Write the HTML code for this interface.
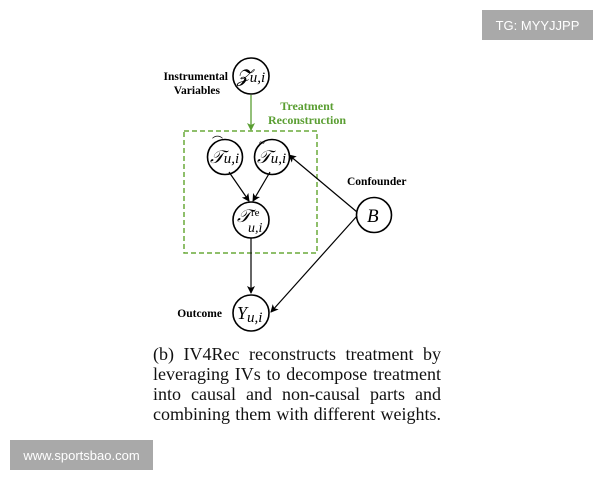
<!DOCTYPE html>
<html><head><meta charset="utf-8"><style>
body{margin:0;width:600px;height:480px;background:#fff;position:relative;overflow:hidden;font-family:"Liberation Serif",serif}
.wm{position:absolute;background:#a9a9a9;color:#fff;font-family:"Liberation Sans",sans-serif;font-size:13px;display:flex;align-items:center;justify-content:center}
.cap{position:absolute;left:153px;top:344px;width:288px;font-size:18px;line-height:20px;color:#111}
.cap div{text-align:justify;text-align-last:justify;white-space:nowrap;height:20px}
</style></head><body>
<svg width="600" height="480" style="position:absolute;left:0;top:0" font-family="Liberation Serif">
<defs>
<marker id="a" markerWidth="8" markerHeight="8" refX="7" refY="4" orient="auto" markerUnits="userSpaceOnUse"><path d="M0,0 L8,4 L0,8 L2,4z" fill="#000"/></marker>
<marker id="g" markerWidth="8" markerHeight="8" refX="7" refY="4" orient="auto" markerUnits="userSpaceOnUse"><path d="M0,0 L8,4 L0,8 L2,4z" fill="#5a9e32"/></marker>
</defs>
<rect x="184" y="131" width="133" height="122" fill="none" stroke="#6aaa3a" stroke-width="1.5" stroke-dasharray="5,3"/>
<line x1="251" y1="95" x2="251" y2="130" stroke="#5a9e32" stroke-width="1.3" marker-end="url(#g)"/>
<text x="307" y="110" font-size="12" font-weight="bold" fill="#5a9e32" text-anchor="middle">Treatment</text>
<text x="307" y="124" font-size="12" font-weight="bold" fill="#5a9e32" text-anchor="middle">Reconstruction</text>
<g fill="none" stroke="#000" stroke-width="1.6">
<circle cx="251" cy="76" r="18"/>
<circle cx="225" cy="157" r="17.5"/>
<circle cx="272" cy="157" r="17.5"/>
<circle cx="251" cy="220" r="18"/>
<circle cx="374" cy="215" r="17.5"/>
<circle cx="251" cy="313" r="18"/>
</g>
<g stroke="#000" stroke-width="1.2">
<line x1="229" y1="172" x2="249" y2="201" marker-end="url(#a)"/>
<line x1="270" y1="172" x2="253" y2="201" marker-end="url(#a)"/>
<line x1="251" y1="238" x2="251" y2="293" marker-end="url(#a)"/>
<line x1="357" y1="212" x2="289" y2="155" marker-end="url(#a)"/>
<line x1="357" y1="216" x2="271" y2="312" marker-end="url(#a)"/>
</g>
<text x="228" y="80" font-size="11.5" font-weight="bold" text-anchor="end">Instrumental</text>
<text x="220" y="94" font-size="11.5" font-weight="bold" text-anchor="end">Variables</text>
<text x="347" y="185" font-size="11.5" font-weight="bold">Confounder</text>
<text x="222" y="317" font-size="11.5" font-weight="bold" text-anchor="end">Outcome</text>
<g font-style="italic">
<text x="237" y="82" font-size="18">𝓩<tspan font-size="15">u,i</tspan></text>
<text x="210" y="163" font-size="18">𝒯<tspan font-size="15">u,i</tspan></text>
<text x="212" y="145" font-size="11" font-style="normal">⌒</text>
<text x="257" y="163" font-size="18">𝒯<tspan font-size="15">u,i</tspan></text>
<text x="259" y="146" font-size="11" font-style="normal">~</text>
<text x="237" y="222" font-size="18">𝒯</text>
<text x="251" y="216" font-size="11" font-style="normal">re</text>
<text x="248" y="232" font-size="14">u,i</text>
<text x="367" y="222" font-size="19">B</text>
<text x="237" y="319" font-size="18">Y<tspan font-size="15" dy="3">u,i</tspan></text>
</g>
</svg>
<div class="cap">
<div>(b) IV4Rec reconstructs treatment by</div>
<div>leveraging IVs to decompose treatment</div>
<div>into causal and non-causal parts and</div>
<div>combining them with different weights.</div>
</div>
<div class="wm" style="left:482px;top:10px;width:111px;height:30px">TG: MYYJJPP</div>
<div class="wm" style="left:10px;top:440px;width:143px;height:30px">www.sportsbao.com</div>
</body></html>
